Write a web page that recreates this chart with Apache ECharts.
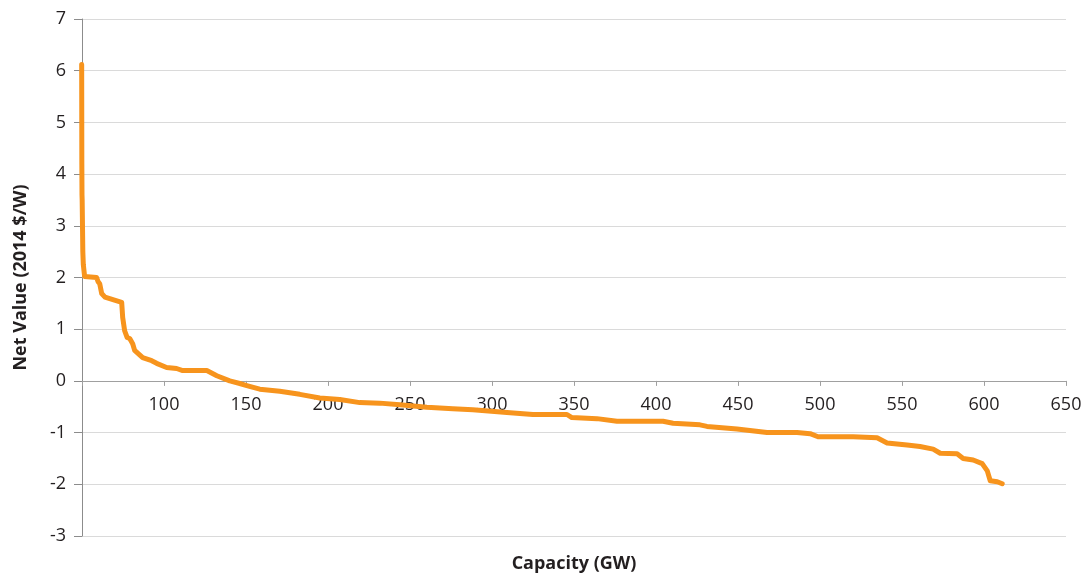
<!DOCTYPE html>
<html>
<head>
<meta charset="utf-8">
<script src="https://cdn.jsdelivr.net/npm/echarts@6/dist/echarts.min.js"></script>
<style>
html,body{margin:0;padding:0;background:#fff;}
#chart{width:1091px;height:578px;}
</style>
</head>
<body>
<div id="chart"></div>
<script>
// Data
const capacity = [49.8, 49.9, 50.0, 50.1, 50.3, 50.5, 50.8, 51.6, 58.9, 59.8, 60.8, 62.0, 64.0, 66.9, 74.2, 74.8, 76.0, 77.5, 79.1, 80.9, 82.1, 87.0, 92.5, 95.5, 101.6, 107.7, 111.4, 126.1, 132.2, 140.1, 146.2, 150.5, 158.4, 170.6, 182.8, 195.0, 207.2, 219.4, 231.6, 243.8, 260.3, 276.1, 288.3, 309.1, 324.9, 345.7, 348.7, 364.0, 376.2, 404.3, 410.4, 426.8, 431.1, 449.4, 467.7, 486.0, 494.0, 498.8, 520.2, 534.8, 540.9, 553.1, 561.0, 569.0, 573.3, 583.6, 587.3, 593.4, 598.9, 602.0, 603.8, 608.1, 611.1];
const netValue = [6.12, 4.2, 3.6, 3.5, 3.0, 2.5, 2.25, 2.02, 2.0, 1.92, 1.88, 1.69, 1.62, 1.59, 1.52, 1.23, 0.97, 0.84, 0.82, 0.72, 0.59, 0.45, 0.39, 0.34, 0.26, 0.24, 0.20, 0.20, 0.10, 0.0, -0.05, -0.09, -0.16, -0.20, -0.26, -0.33, -0.36, -0.42, -0.43, -0.46, -0.51, -0.54, -0.56, -0.61, -0.65, -0.65, -0.71, -0.73, -0.78, -0.78, -0.82, -0.85, -0.88, -0.93, -1.0, -1.0, -1.02, -1.08, -1.08, -1.10, -1.20, -1.24, -1.27, -1.32, -1.40, -1.41, -1.50, -1.53, -1.60, -1.74, -1.93, -1.95, -1.99];
const xTicks = [50, 650, 50];   // min, max, interval
const yTicks = [-3, 7, 1];      // min, max, interval
const xTitle = 'Capacity (GW)';
const yTitle = 'Net Value (2014 $/W)';

const seriesData = capacity.map((c, i) => [c, netValue[i]]);
const FONT = '"Open Sans", "Noto Sans", sans-serif';

const gridTop = 19, gridBottom = 42, H = 578;
const plotH = H - gridTop - gridBottom;
// distance from grid bottom up to the value 0 on the y axis
const zeroOffset = plotH * (0 - yTicks[0]) / (yTicks[1] - yTicks[0]);

const chart = echarts.init(document.getElementById('chart'), null, {renderer: 'canvas'});
chart.setOption({
  animation: false,
  backgroundColor: '#ffffff',
  grid: {left: 82, right: 25, top: gridTop, bottom: gridBottom, containLabel: false, outerBoundsMode: 'none'},
  xAxis: {
    type: 'value',
    min: xTicks[0], max: xTicks[1], interval: xTicks[2],
    position: 'bottom',
    offset: -zeroOffset,
    name: xTitle,
    nameLocation: 'middle',
    nameGap: 174,
    nameTextStyle: {fontFamily: FONT, fontWeight: 'bold', fontSize: 18, color: '#231f20'},
    axisLine: {onZero: false, lineStyle: {color: '#a0a0a0', width: 1}},
    axisTick: {show: true, inside: false, length: 5, lineStyle: {color: '#a0a0a0'}},
    axisLabel: {
      fontFamily: FONT, fontSize: 18, color: '#231f20', margin: 15,
      formatter: v => (v === xTicks[0] ? '' : String(v))
    },
    splitLine: {show: false}
  },
  yAxis: {
    type: 'value',
    min: yTicks[0], max: yTicks[1], interval: yTicks[2],
    name: yTitle,
    nameLocation: 'middle',
    nameGap: 52,
    nameRotate: 90,
    nameTextStyle: {fontFamily: FONT, fontWeight: 'bold', fontSize: 18, color: '#231f20'},
    axisLine: {show: true, onZero: false, lineStyle: {color: '#8c8c8c', width: 1}},
    axisTick: {show: true, length: 8, lineStyle: {color: '#8c8c8c'}},
    axisLabel: {fontFamily: FONT, fontSize: 18, color: '#231f20', margin: 16},
    splitLine: {show: true, lineStyle: {color: '#dadada', width: 1}}
  },
  series: [{
    type: 'line',
    data: seriesData,
    showSymbol: false,
    symbol: 'none',
    lineStyle: {color: '#F7941D', width: 5, join: 'round', cap: 'round'},
    itemStyle: {color: '#F7941D'}
  }]
});
</script>
</body>
</html>
